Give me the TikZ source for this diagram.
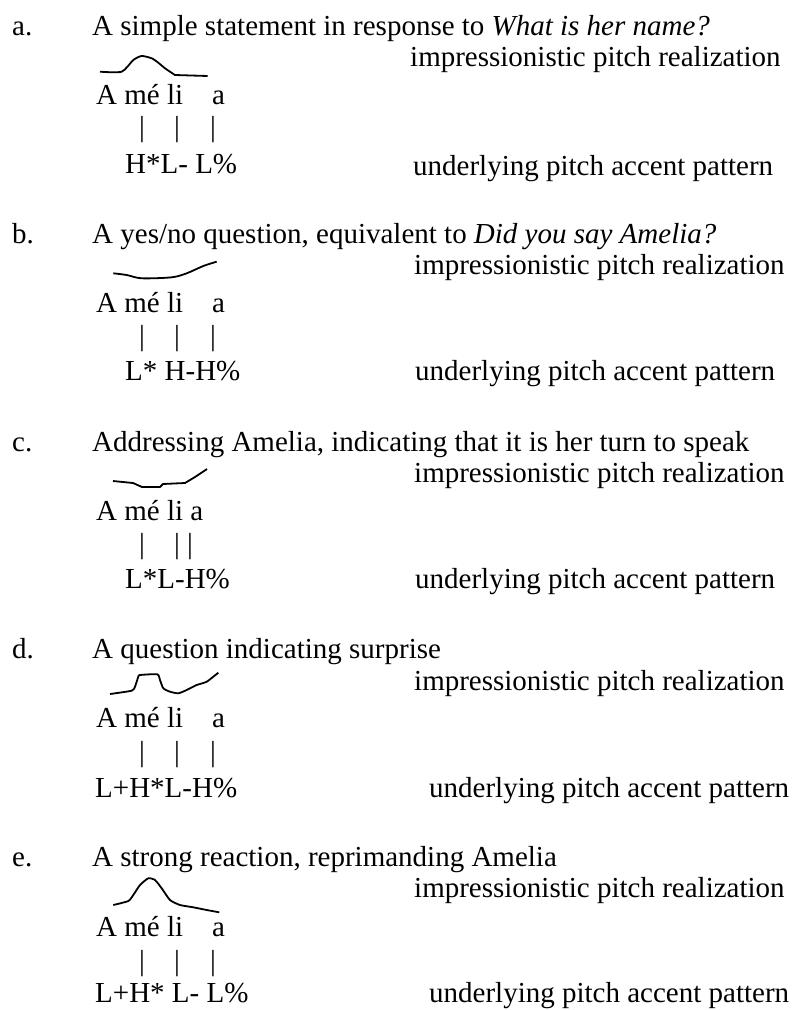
\documentclass[tikz,border=0pt]{standalone}
\usepackage{fontspec}
\setmainfont{Liberation Serif}
\begin{document}
\begin{tikzpicture}[x=1pt,y=-1pt,
  txt/.style={anchor=base west, inner sep=0pt, font=\fontsize{29}{34}\selectfont},
  barmark/.style={anchor=center, inner sep=0pt, font=\fontsize{29}{34}\selectfont},
  contour/.style={line width=1.8pt, line join=round, line cap=butt}]
\fill[white] (0,0) rectangle (800,1010);
\useasboundingbox (0,0) rectangle (800,1010);

% ---------- a ----------
\node[txt] (la) at (12,35) {a.};
\node[txt] (ta) at (92,35) {A simple statement in response to \textit{What is her name?}};
\node[txt] (ia) at (410,66) {impressionistic pitch realization};
\draw[contour] plot[smooth, tension=0.4] coordinates {(100,71.7) (121.7,71.7) (133.3,60) (141.7,56) (151.7,58.3) (158.3,62.7) (165,68.3) (175,75)} -- (207.7,76);
\node[txt] (sa1) at (96,104) {A mé li};
\node[txt] (sa2) at (212,104) {a};
\node[barmark] (ba1) at (142,130) {|};
\node[barmark] (ba2) at (177,130) {|};
\node[barmark] (ba3) at (213,130) {|};
\node[txt] (pa) at (125,173) {H*L- L\%};
\node[txt] (ua) at (413,175) {underlying pitch accent pattern};

% ---------- b ----------
\node[txt] (lb) at (12,243) {b.};
\node[txt] (tb) at (92,243) {A yes/no question, equivalent to \textit{Did you say Amelia?}};
\node[txt] (ib) at (414,274) {impressionistic pitch realization};
\draw[contour] plot[smooth, tension=0.5] coordinates {(113.3,273.3) (126.7,275) (141.7,278.3) (171.7,277.3) (186.7,273.3) (203.3,266) (216.7,261.7)};
\node[txt] (sb1) at (96,312) {A mé li};
\node[txt] (sb2) at (212,312) {a};
\node[barmark] (bb1) at (142,338.5) {|};
\node[barmark] (bb2) at (177,338.5) {|};
\node[barmark] (bb3) at (213,338.5) {|};
\node[txt] (pb) at (125,380) {L* H-H\%};
\node[txt] (ub) at (415,380) {underlying pitch accent pattern};

% ---------- c ----------
\node[txt] (lc) at (12,451) {c.};
\node[txt] (tc) at (92,451) {Addressing Amelia, indicating that it is her turn to speak};
\node[txt] (ic) at (414,482) {impressionistic pitch realization};
\draw[contour] (113,481) -- (133,483) -- (142,487) -- (160,487) -- (163,484) -- (185,483) -- (195,477) -- (207,469);
\node[txt] (sc) at (96,520) {A mé li a};
\node[barmark] (bc1) at (142,546.5) {|};
\node[barmark] (bc2) at (177,546.5) {|};
\node[barmark] (bc3) at (190,546.5) {|};
\node[txt] (pc) at (125,588) {L*L-H\%};
\node[txt] (uc) at (415,588) {underlying pitch accent pattern};

% ---------- d ----------
\node[txt] (ld) at (12,658) {d.};
\node[txt] (td) at (92,658) {A question indicating surprise};
\node[txt] (id) at (414,690) {impressionistic pitch realization};
\draw[contour] plot[smooth, tension=0.35] coordinates {(110,694) (131.7,690.7) (135,686.7) (138.3,676.7) (140,675) (157.3,674.3) (160,680) (163.3,688.3) (170,691.7) (178.3,693.3) (186.7,690) (196.7,685) (206.7,681.7) (218.3,672.7)};
\node[txt] (sd1) at (96,727) {A mé li};
\node[txt] (sd2) at (212,727) {a};
\node[barmark] (bd1) at (142,755) {|};
\node[barmark] (bd2) at (177,755) {|};
\node[barmark] (bd3) at (213,755) {|};
\node[txt] (pd) at (95,797) {L+H*L-H\%};
\node[txt] (ud) at (429,797) {underlying pitch accent pattern};

% ---------- e ----------
\node[txt] (le) at (12,866) {e.};
\node[txt] (te) at (92,866) {A strong reaction, reprimanding Amelia};
\node[txt] (ie) at (414,897) {impressionistic pitch realization};
\draw[contour] plot[smooth, tension=0.35] coordinates {(113.3,905) (128.3,901) (133.3,895) (140,885) (148.3,878.3) (155,880) (161.7,888.3) (170,900) (180,905) (193.3,907.3) (206.7,910) (219.3,912.3)};
\node[txt] (se1) at (96,936) {A mé li};
\node[txt] (se2) at (212,936) {a};
\node[barmark] (be1) at (142,964) {|};
\node[barmark] (be2) at (177,964) {|};
\node[barmark] (be3) at (213,964) {|};
\node[txt] (pe) at (95,1002) {L+H* L- L\%};
\node[txt] (ue) at (429,1002) {underlying pitch accent pattern};
\end{tikzpicture}
\end{document}
